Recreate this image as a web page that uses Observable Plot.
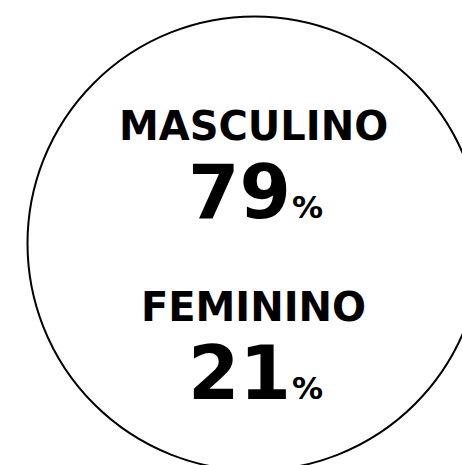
<!DOCTYPE html>
<html>
<head>
<meta charset="utf-8">
<script src="https://cdn.jsdelivr.net/npm/d3@7"></script>
<script src="https://cdn.jsdelivr.net/npm/@observablehq/plot@0.6"></script>
<style>
  html, body { margin: 0; padding: 0; background: #fff; overflow: hidden; }
  #chart svg { display: block; }
</style>
</head>
<body>
<div id="chart"></div>
<script>
const categories = ["MASCULINO", "FEMININO"];
const percentages = [79, 21];
const unit = "%";

const rows = categories.map((c, i) => ({category: c, value: percentages[i]}));

const font = "'DejaVu Sans', sans-serif";

const chart = Plot.plot({
  width: 462,
  height: 465,
  marginLeft: 46,
  marginRight: 0,
  marginTop: 21,
  marginBottom: 0,
  style: {background: "#fff", fontFamily: font, overflow: "hidden"},
  y: {type: "point", domain: categories, range: [139, 320], padding: 0, axis: null},
  marks: [
    Plot.dot([0], {frameAnchor: "middle", r: 227, stroke: "#000", strokeWidth: 2, fill: "none"}),
    Plot.text(rows, {
      y: "category", text: "category", dx: -1,
      lineAnchor: "bottom", textAnchor: "middle",
      fontSize: 40, fontWeight: "bold", fill: "#000", fontFamily: font
    }),
    Plot.text(rows, {
      y: "category", text: d => `${d.value}${unit}`, dx: 1, dy: 78,
      lineAnchor: "bottom", textAnchor: "middle",
      fontSize: 74, fontWeight: "bold", fill: "#000", fontFamily: font,
      className: "pct"
    })
  ]
});

document.getElementById("chart").appendChild(chart);

// style the percent sign smaller, keeping real text
d3.select(chart).selectAll(".pct text").each(function() {
  const t = d3.select(this);
  const s = t.text();
  if (s.endsWith(unit)) {
    t.text(s.slice(0, -unit.length));
    t.append("tspan").attr("font-size", 31).attr("dx", 1).text(unit);
  }
});
</script>
</body>
</html>
